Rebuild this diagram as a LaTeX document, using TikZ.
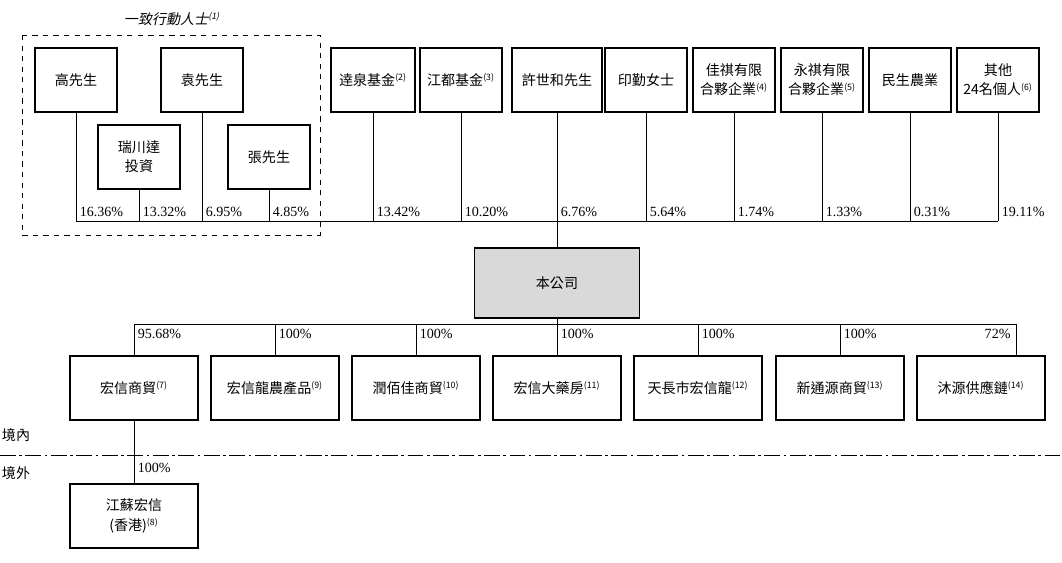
\documentclass[tikz,border=0pt]{standalone}
\usepackage{fontspec}
\setmainfont{Liberation Serif}
\newfontfamily\cjk{Noto Sans CJK TC}
\newfontfamily\cjkit[FakeSlant=0.2]{Noto Sans CJK TC}
\usetikzlibrary{positioning}
\newcommand{\nt}[1]{\textsuperscript{\tiny(#1)}}
\tikzset{
  entity/.style = {draw=black, thick, inner sep=1pt, align=center,
                   minimum width=1.64cm, minimum height=1.28cm,
                   font=\cjk\fontsize{8}{11}\selectfont},
  pct/.style = {anchor=south west, inner sep=2pt, font=\fontsize{8}{10}\selectfont},
  link/.style = {thin}
}
\begin{document}
\begin{tikzpicture}[x=0.02cm, y=-0.02cm]
\useasboundingbox (0,0) rectangle (1062,563);
% holders
\node (gao) [entity] at (76,80) {高先生};
\node (yuan) [entity] at (202,80) {袁先生};
\node (rcd) [entity] at (139,157) {瑞川達\\投資};
\node (zhang) [entity] at (269,157) {張先生};
\node (dq) [entity, minimum width=1.68cm] at (373,80) {逹泉基金\nt{2}};
\node (jd) [entity] at (461,80) {江都基金\nt{3}};
\node (xu) [entity, minimum width=1.8cm] at (557,80) {許世和先生};
\node (yin) [entity] at (646,80) {印勤女士};
\node (jq) [entity] at (734,80) {佳祺有限\\合夥企業\nt{4}};
\node (yq) [entity] at (822,80) {永祺有限\\合夥企業\nt{5}};
\node (ms) [entity] at (910,80) {民生農業};
\node (qt) [entity] at (998,80) {其他\\24名個人\nt{6}};
\draw [dashed, thin] (22,35) rectangle (320,235);
\node (acting) [font=\cjkit\fontsize{8}{10}\selectfont] at (172,19) {一致行動人士\nt{1}};
% company
\node (co) [entity, fill=gray!30, minimum width=3.3cm, minimum height=1.4cm] at (557,283) {本公司};
\coordinate (busT) at (998,221);
\coordinate (busB) at (1016,324);
\draw [link] (gao.south |- busT) -- (busT);
\foreach \n/\p in {gao/16.36, rcd/13.32, yuan/6.95, zhang/4.85, dq/13.42, jd/10.20,
                   xu/6.76, yin/5.64, jq/1.74, yq/1.33, ms/0.31, qt/19.11}
  \draw [link] (\n.south) -- (\n.south |- busT) node [pct] {\p\%};
\draw [link] (xu.south |- busT) -- (co.north);
% subsidiaries
\node (hx) [entity, minimum width=2.56cm] at (134,388) {宏信商貿\nt{7}};
\node (hxl) [entity, minimum width=2.56cm] at (275,388) {宏信龍農產品\nt{9}};
\node (rbj) [entity, minimum width=2.56cm] at (416,388) {潤佰佳商貿\nt{10}};
\node (dyf) [entity, minimum width=2.56cm] at (557,388) {宏信大藥房\nt{11}};
\node (tcs) [entity, minimum width=2.56cm] at (698,388) {天長市宏信龍\nt{12}};
\node (xty) [entity, minimum width=2.56cm] at (840,388) {新通源商貿\nt{13}};
\node (my) [entity, minimum width=2.56cm] at (981,388) {沐源供應鏈\nt{14}};
\node (js) [entity, minimum width=2.56cm] at (134,516) {江蘇宏信\\(香港)\nt{8}};
\draw [link] (co.south) -- (co.south |- busB);
\draw [link] (hx.north |- busB) -- (busB);
\foreach \n/\p in {hx/95.68, hxl/100, rbj/100, dyf/100, tcs/100, xty/100}
  \draw [link] (\n.north |- busB) -- (\n.north) node [pct, pos=0.05, anchor=north west] {\p\%};
\draw [link] (busB) -- (my.north -| busB) node [pct, pos=0.05, anchor=north west, xshift=-20] {72\%};
% border
\draw [link, dash pattern=on 9pt off 2pt on 1.5pt off 2pt] (0,455) -- (1062,455);
\node (inl) [font=\cjk\fontsize{8}{10}\selectfont] at (16,435) {境內};
\node (ovs) [font=\cjk\fontsize{8}{10}\selectfont] at (16,473) {境外};
\draw [link] (hx.south) -- (js.north) node [pct, pos=0.75, anchor=west] {100\%};
\end{tikzpicture}
\end{document}
